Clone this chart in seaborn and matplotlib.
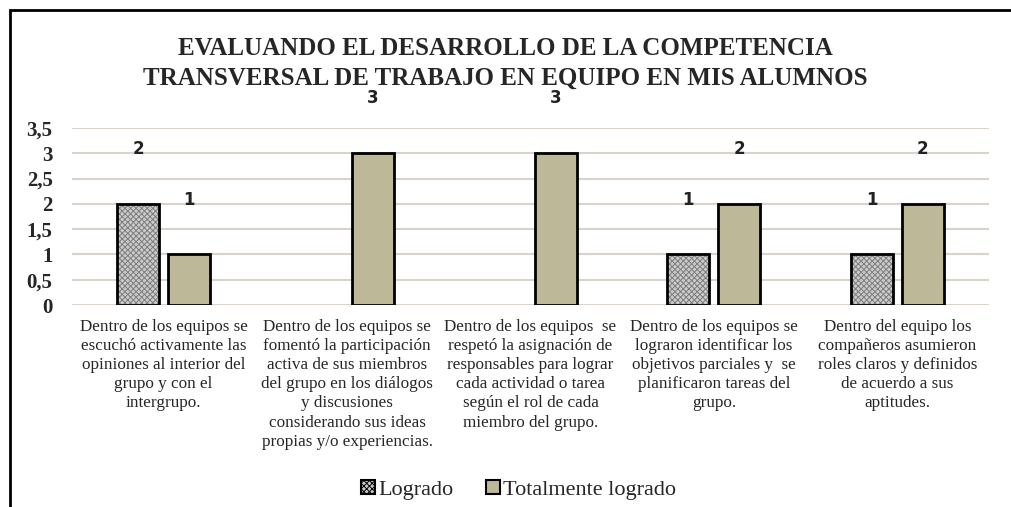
import pandas as pd
import seaborn as sns
import numpy as np
import matplotlib.pyplot as plt
from matplotlib.patches import Rectangle

# Data
categorias = [
    "Dentro de los equipos se\nescuchó activamente las\nopiniones al interior del\ngrupo y con el\nintergrupo.",
    "Dentro de los equipos se\nfomentó la participación\nactiva de sus miembros\ndel grupo en los diálogos\ny discusiones\nconsiderando sus ideas\npropias y/o experiencias.",
    "Dentro de los equipos  se\nrespetó la asignación de\nresponsables para lograr\ncada actividad o tarea\nsegún el rol de cada\nmiembro del grupo.",
    "Dentro de los equipos se\nlograron identificar los\nobjetivos parciales y  se\nplanificaron tareas del\ngrupo.",
    "Dentro del equipo los\ncompañeros asumieron\nroles claros y definidos\nde acuerdo a sus\naptitudes.",
]
logrado = [2, 0, 0, 1, 1]
totalmente = [1, 3, 3, 2, 2]
series = ['Logrado', 'Totalmente logrado']
yticks = [0, 0.5, 1, 1.5, 2, 2.5, 3, 3.5]
titulo = 'EVALUANDO EL DESARROLLO DE LA COMPETENCIA\nTRANSVERSAL DE TRABAJO EN EQUIPO EN MIS ALUMNOS'

df = pd.DataFrame({
    'categoria': categorias * 2,
    'serie': [series[0]] * 5 + [series[1]] * 5,
    'valor': logrado + totalmente,
})

sns.set_theme(style='white')
plt.rcParams['font.family'] = ['Liberation Serif', 'DejaVu Serif']
plt.rcParams['hatch.linewidth'] = 0.7

fig = plt.figure(figsize=(10.11, 5.07), dpi=100)
ax = fig.add_axes([0.0712, 0.3984, 0.907, 0.3491])

colores = {'Logrado': '#cbcbcb', 'Totalmente logrado': '#bdb898'}
sns.barplot(data=df, x='categoria', y='valor', hue='serie', palette=colores,
            saturation=1, width=0.557, gap=0.176, edgecolor='black', linewidth=2,
            legend=False, ax=ax, zorder=3)

# hide empty bars, dotted pattern on "Logrado" bars, black outline on top
for cont in ax.containers:
    for patch in cont:
        if patch.get_height() == 0:
            patch.set_visible(False)
for patch in ax.containers[0]:
    if not patch.get_visible():
        continue
    patch.set_edgecolor('#7d7d7d')
    patch.set_hatch('xxxxxx')
    patch.set_linewidth(0)
    ax.add_patch(Rectangle((patch.get_x(), patch.get_y()), patch.get_width(),
                           patch.get_height(), fill=False, edgecolor='black',
                           linewidth=2, zorder=4))

# value labels
for cont, vals in zip(ax.containers, [logrado, totalmente]):
    etiquetas = [str(v) if v else '' for v in vals]
    ax.bar_label(cont, labels=etiquetas, padding=33, fontsize=12,
                 fontweight='bold', family='DejaVu Sans', color='#222222')

ax.set_ylim(0, 3.5)
ax.set_yticks(yticks)
ax.set_yticklabels([f'{t:g}'.replace('.', ',') for t in yticks],
                   fontsize=15, fontweight='bold')
ax.yaxis.grid(True, color='#d9d3cc', linewidth=1.5, zorder=0)
ax.set_axisbelow(True)
ax.tick_params(axis='y', length=0, pad=14)
ax.tick_params(axis='x', length=0, pad=10, labelsize=12.3)
for lbl in ax.get_xticklabels():
    lbl.set_linespacing(1.26)
ax.set_xlabel('')
ax.set_ylabel('')
sns.despine(ax=ax, left=True, bottom=True)

fig.suptitle(titulo, y=0.927, fontsize=18, fontweight='bold', linespacing=1.35)

# legend
handles = [Rectangle((0, 0), 1, 1, facecolor=colores['Logrado'], edgecolor='black',
                     hatch='xxxxxx', linewidth=1.5),
           Rectangle((0, 0), 1, 1, facecolor=colores['Totalmente logrado'],
                     edgecolor='black', linewidth=1.5)]
fig.legend(handles, series, loc='lower center', bbox_to_anchor=(0.513, -0.025),
           ncol=2, frameon=False, fontsize=16, handlelength=0.6, handleheight=0.6,
           handletextpad=0.15, columnspacing=1.5)

# outer frame
fig.add_artist(Rectangle((10 / 1011, -0.1), 1.1, 1 - 10 / 507 + 0.1,
                         transform=fig.transFigure, fill=False,
                         edgecolor='black', linewidth=2))

fig.savefig('out.png', dpi=100)
